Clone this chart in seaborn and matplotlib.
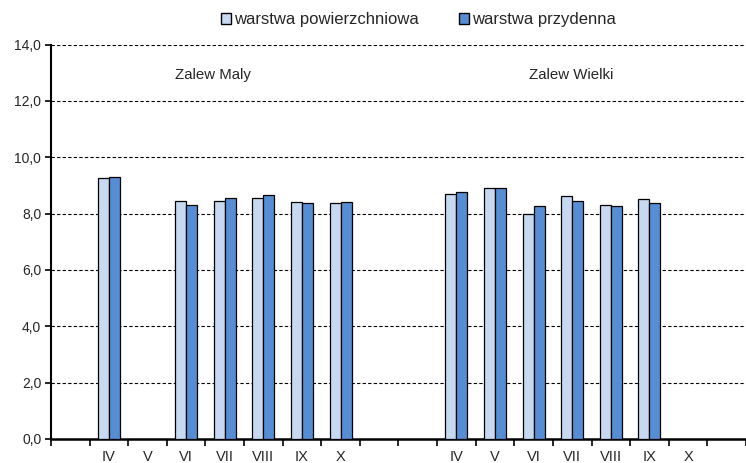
import numpy as np
import pandas as pd
import matplotlib
matplotlib.use("Agg")
import matplotlib.pyplot as plt
from matplotlib.patches import Patch
import seaborn as sns

# dane
months = ["IV", "V", "VI", "VII", "VIII", "IX", "X"]
maly_surface = [9.25, np.nan, 8.46, 8.46, 8.56, 8.41, 8.37]
maly_bottom = [9.30, np.nan, 8.32, 8.56, 8.66, 8.37, 8.41]
wielki_surface = [8.71, 8.89, 7.97, 8.61, 8.32, 8.51, np.nan]
wielki_bottom = [8.75, 8.89, 8.27, 8.46, 8.27, 8.37, np.nan]
series = ["warstwa powierzchniowa", "warstwa przydenna"]
colors = ["#C6D9F1", "#558ED5"]

# pozycje kategorii: pusta, Zalew Maly, dwie puste, Zalew Wielki, pusta
slot_labels = [""] + months + ["", ""] + months + [""]
maly_slots = list(range(1, 8))
wielki_slots = list(range(10, 17))

rows = []
for slots, surf, bott in [(maly_slots, maly_surface, maly_bottom),
                          (wielki_slots, wielki_surface, wielki_bottom)]:
    for s, a, b in zip(slots, surf, bott):
        rows.append({"slot": s, "seria": series[0], "val": a})
        rows.append({"slot": s, "seria": series[1], "val": b})
df = pd.DataFrame(rows).dropna()

sns.set_style("white")
plt.rcParams["font.family"] = ["Liberation Sans", "DejaVu Sans"]

fig = plt.figure(figsize=(7.46, 4.63), dpi=100)
ax = fig.add_axes([51 / 746, 24 / 463, 695 / 746, 394.5 / 463])

sns.barplot(data=df, x="slot", y="val", hue="seria", order=list(range(18)),
            hue_order=series, palette=colors, saturation=1, width=0.57, gap=0,
            edgecolor="black", linewidth=0.9, errorbar=None, ax=ax,
            legend=False, zorder=3)

ax.set_xlim(-0.5, 17.5)
ax.set_ylim(0, 14)
ax.set_yticks(np.arange(0, 15, 2))
ax.set_yticklabels([f"{v:.1f}".replace(".", ",") for v in np.arange(0, 15, 2)],
                   fontsize=10)
for v in np.arange(2, 15, 2):
    ax.axhline(v, color="black", lw=0.8, ls=(0, (3, 2)), zorder=1)

ax.set_xticks(range(18))
ax.set_xticklabels(slot_labels, fontsize=10.5)
ax.set_xticks(np.arange(-0.5, 18, 1), minor=True)
ax.tick_params(axis="x", which="major", length=0, pad=8)
ax.tick_params(axis="x", which="minor", bottom=True, length=5, width=1.2,
               direction="out", color="black")
ax.tick_params(axis="y", length=4, width=1.2, direction="out", color="black",
               left=True, pad=3)
ax.set_xlabel("")
ax.set_ylabel("")

for sp in ["top", "right"]:
    ax.spines[sp].set_visible(False)
ax.spines["left"].set_color("black")
ax.spines["left"].set_linewidth(1.5)
ax.spines["bottom"].set_color("black")
ax.spines["bottom"].set_linewidth(1.8)

ax.text(3.7, 12.9, "Zalew Maly", ha="center", va="center", fontsize=10.8)
ax.text(12.96, 12.9, "Zalew Wielki", ha="center", va="center", fontsize=10.8)

handles = [Patch(facecolor=c, edgecolor="black", lw=1.0) for c in colors]
fig.legend(handles, series, loc="center", bbox_to_anchor=(0.561, 0.957),
           ncol=2, frameon=False, fontsize=12, handlelength=0.6,
           handleheight=0.6, handletextpad=0.2, columnspacing=2.4)

fig.savefig("out.png", dpi=100)
